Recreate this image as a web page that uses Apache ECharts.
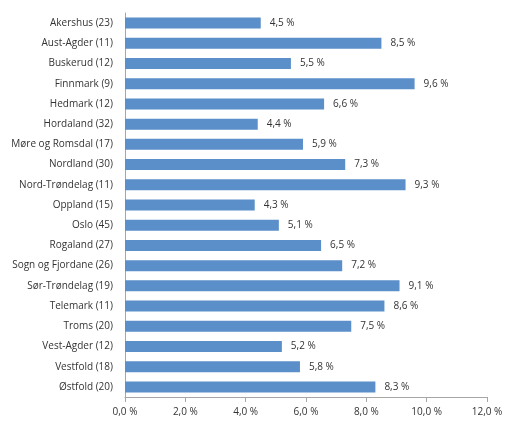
<!DOCTYPE html>
<html lang="no">

<head>
    <meta charset="UTF-8">
    <title>Andel per fylke</title>
    <script src="https://cdn.jsdelivr.net/npm/echarts@6/dist/echarts.min.js"></script>
    <style>
        * {
            margin: 0;
            padding: 0;
        }

        #main {
            width: 510px;
            height: 425px;
            background: #fff;
        }
    </style>
</head>

<body>
    <div id="main"></div>
    <script>
        // fylker, med antall i parentes
        let categories = [
            'Akershus (23)', 'Aust-Agder (11)', 'Buskerud (12)', 'Finnmark (9)',
            'Hedmark (12)', 'Hordaland (32)', 'Møre og Romsdal (17)', 'Nordland (30)',
            'Nord-Trøndelag (11)', 'Oppland (15)', 'Oslo (45)', 'Rogaland (27)',
            'Sogn og Fjordane (26)', 'Sør-Trøndelag (19)', 'Telemark (11)', 'Troms (20)',
            'Vest-Agder (12)', 'Vestfold (18)', 'Østfold (20)'
        ];
        let values = [4.5, 8.5, 5.5, 9.6, 6.6, 4.4, 5.9, 7.3, 9.3, 4.3, 5.1, 6.5, 7.2, 9.1, 8.6, 7.5, 5.2, 5.8, 8.3];
        let xTicks = [0, 2, 4, 6, 8, 10, 12];

        function pct(v) {
            return v.toFixed(1).replace('.', ',') + ' %';
        }

        let font = 'Open Sans';
        let myChart = echarts.init(document.getElementById('main'));
        myChart.setOption({
            animation: false,
            grid: { left: 125, right: 23, top: 13, bottom: 28, containLabel: false },
            xAxis: {
                type: 'value',
                min: xTicks[0],
                max: xTicks[xTicks.length - 1],
                interval: 2,
                splitLine: { show: false },
                axisLine: { show: true, lineStyle: { color: '#a6a6a6' } },
                axisTick: { show: true, length: 5, lineStyle: { color: '#a6a6a6' } },
                axisLabel: {
                    formatter: pct,
                    color: '#333',
                    fontFamily: font,
                    fontSize: 10,
                    margin: 10
                }
            },
            yAxis: {
                type: 'category',
                data: categories,
                inverse: true,
                axisLine: { show: true, lineStyle: { color: '#a6a6a6' } },
                axisTick: { show: false },
                axisLabel: {
                    color: '#333',
                    fontFamily: font,
                    fontSize: 10,
                    margin: 12
                }
            },
            series: [{
                type: 'bar',
                data: values,
                barWidth: 11,
                itemStyle: { color: '#5b8fca' },
                label: {
                    show: true,
                    position: 'right',
                    distance: 9,
                    formatter: p => pct(p.value),
                    color: '#333',
                    fontFamily: font,
                    fontSize: 10
                }
            }]
        });
    </script>
</body>

</html>
